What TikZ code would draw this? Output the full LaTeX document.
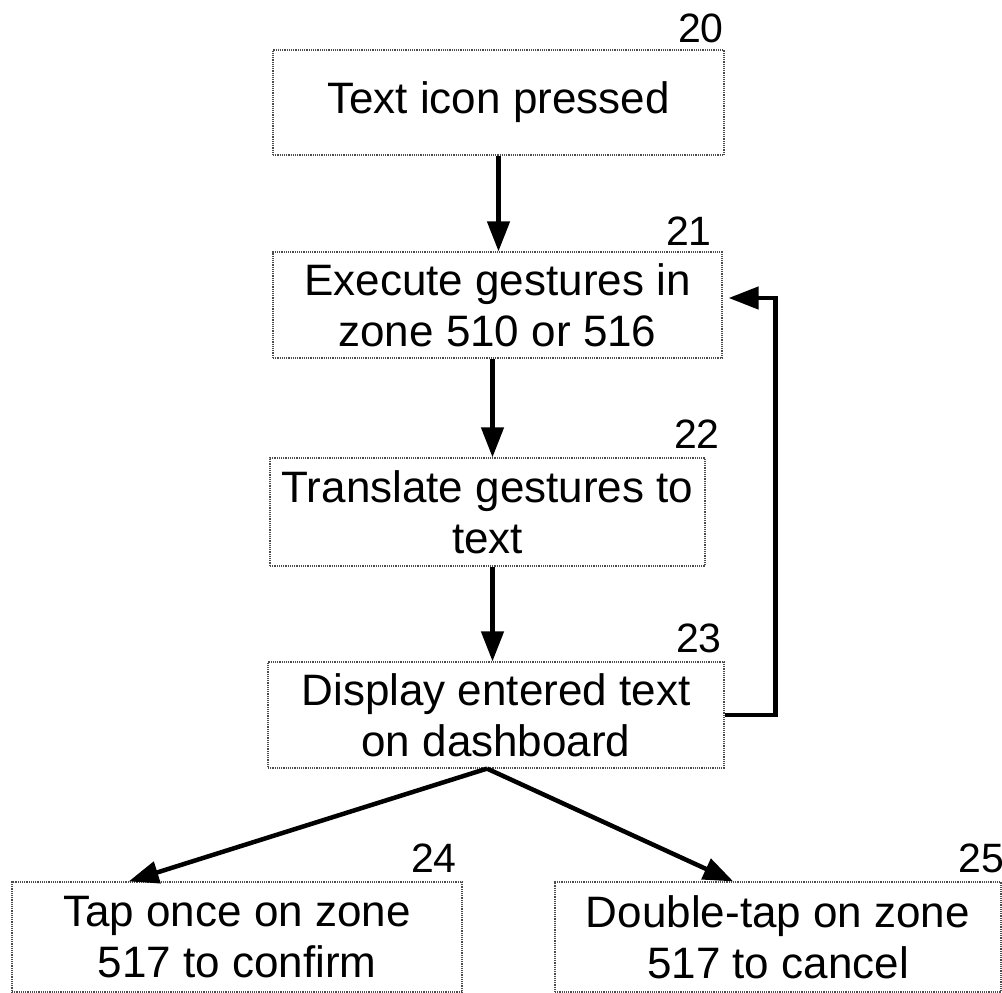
\documentclass[tikz,border=0pt]{standalone}
\usepackage{fontspec}
\setmainfont{Liberation Sans}
\usetikzlibrary{arrows.meta,calc}
\tikzset{
    stepbox/.style={draw=gray!60!black,densely dotted,line width=1.2pt,align=center,
        inner sep=0pt,font=\fontsize{44}{51}\selectfont},
    reflabel/.style={anchor=base east,inner sep=0pt,font=\fontsize{41}{41}\selectfont},
    flow/.style={line width=4.5pt,-{Triangle[length=30pt,width=22pt]}}
}
\begin{document}
\begin{tikzpicture}[x=1pt,y=-1pt]
    \useasboundingbox (0,0) rectangle (1002,993);
    % boxes
    \node[stepbox,minimum width=451pt,minimum height=105pt] (n20) at (498.5,102.5) {Text icon pressed};
    \node[stepbox,minimum width=449pt,minimum height=106pt] (n21) at (497.5,305) {Execute gestures in\\zone 510 or 516};
    \node[stepbox,minimum width=435pt,minimum height=108pt] (n22) at (487.5,512) {Translate gestures to\\text};
    \node[stepbox,minimum width=456pt,minimum height=106pt] (n23) at (496,715) {Display entered text\\on dashboard};
    \node[stepbox,minimum width=450pt,minimum height=110pt] (n24) at (237,937) {Tap once on zone\\517 to confirm};
    \node[stepbox,minimum width=446pt,minimum height=110pt] (n25) at (778,937) {Double-tap on zone\\517 to cancel};
    % reference numbers
    \node[reflabel] (l20) at (724,42) {20};
    \node[reflabel] (l21) at (712,245) {21};
    \node[reflabel] (l22) at (720,448) {22};
    \node[reflabel] (l23) at (722,652) {23};
    \node[reflabel] (l24) at (457,872) {24};
    \node[reflabel] (l25) at (1004,872) {25};
    % connectors
    \draw[flow] (n20.south) -- (n20.south |- n21.north);
    \draw[flow] ($(n21.south)+(-5,0)$) -- ($(n21.south |- n22.north)+(-5,0)$);
    \draw[flow] ($(n22.south)+(5,0)$) -- ($(n22.south |- n23.north)+(5,0)$);
    \draw[flow] (n23.east) -- ++(51,0) coordinate (back) |- ($(n21.east)+(6,-7)$);
    \draw[flow] ($(n23.south)+(-9,0)$) -- ($(n24.north west)!0.26!(n24.north east)$);
    \draw[flow] ($(n23.south)+(-9,0)$) -- ($(n25.north west)!0.4!(n25.north east)$);
\end{tikzpicture}
\end{document}
